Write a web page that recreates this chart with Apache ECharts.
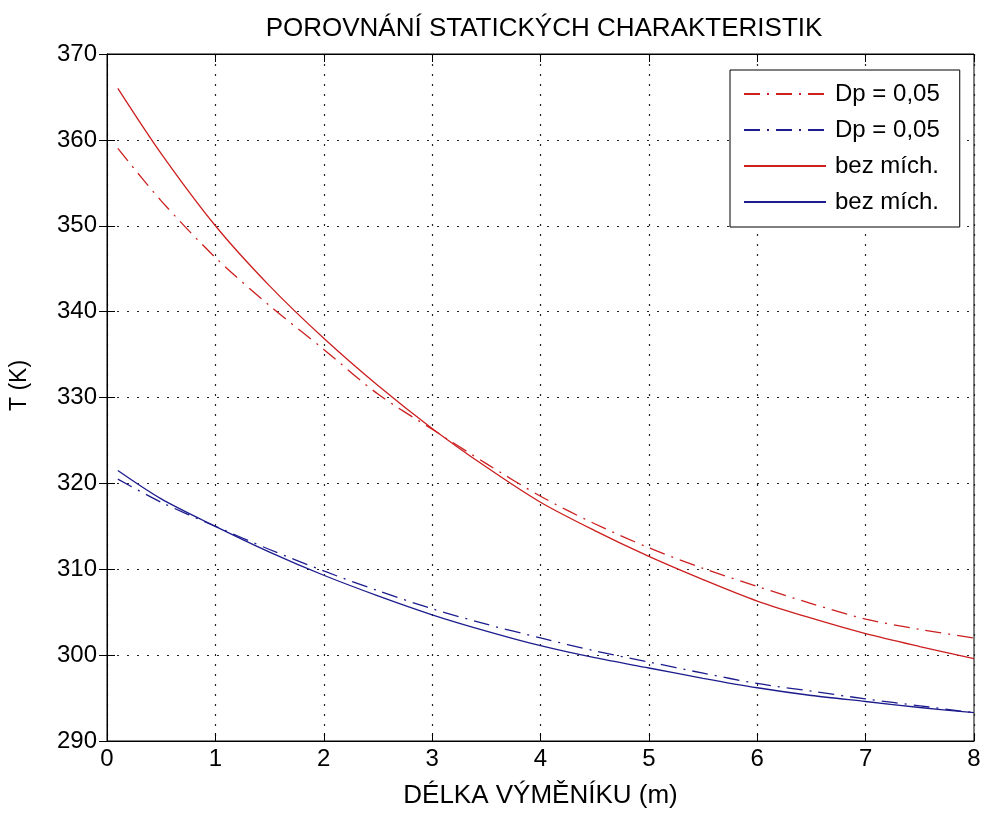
<!DOCTYPE html>
<html>
<head>
<meta charset="utf-8">
<script src="https://cdn.jsdelivr.net/npm/echarts@6/dist/echarts.min.js"></script>
<style>
html,body{margin:0;padding:0;background:#fff;}
#chart{width:984px;height:814px;}
</style>
</head>
<body>
<div id="chart"></div>
<script>
var titleText = 'POROVNÁNÍ STATICKÝCH CHARAKTERISTIK';
var xAxisName = 'DÉLKA VÝMĚNÍKU (m)';
var yAxisName = 'T (K)';
var xTicks = [0, 1, 2, 3, 4, 5, 6, 7, 8];
var yTicks = [290, 300, 310, 320, 330, 340, 350, 360, 370];

var xs = [0.1, 0.5, 1, 1.5, 2, 2.5, 3, 3.5, 4, 4.5, 5, 5.5, 6, 6.5, 7, 7.5, 8];
var redDp  = [359.0, 352.9, 346.3, 340.7, 335.6, 330.4, 326.3, 322.3, 318.5, 315.3, 312.5, 310.1, 308.0, 306.0, 304.2, 303.0, 302.0];
var blueDp = [320.5, 317.8, 315.0, 312.3, 309.8, 307.5, 305.4, 303.6, 302.0, 300.5, 299.2, 297.9, 296.7, 295.8, 294.9, 294.1, 293.3];
var redBez = [366.0, 358.4, 350.0, 343.0, 336.9, 331.4, 326.4, 321.9, 317.8, 314.5, 311.5, 308.8, 306.3, 304.3, 302.5, 301.0, 299.6];
var blueBez= [321.5, 318.2, 315.0, 312.0, 309.3, 306.9, 304.7, 302.8, 301.1, 299.7, 298.5, 297.3, 296.2, 295.3, 294.6, 293.9, 293.3];

var seriesNames = ['Dp = 0,05', 'Dp = 0,05', 'bez mích.', 'bez mích.'];
var seriesData = [redDp, blueDp, redBez, blueBez];
var seriesColors = ['#cc1f1f', '#1c1c8e', '#cc1f1f', '#1c1c8e'];
var seriesDash = [[16, 7, 2, 7], [16, 7, 2, 7], 'solid', 'solid'];

function pairs(v) { return xs.map(function (x, i) { return [x, v[i]]; }); }

var FONT = '"Liberation Sans", Arial, sans-serif';
var ids = seriesNames.map(function (n, i) { return 's' + i; });

var series = seriesData.map(function (d, i) {
  return {
    name: ids[i],
    type: 'line',
    data: pairs(d),
    xAxisIndex: 0,
    yAxisIndex: 0,
    smooth: 0.3,
    symbol: 'none',
    showSymbol: false,
    lineStyle: { color: seriesColors[i], width: 1.3, type: seriesDash[i] },
    itemStyle: { color: seriesColors[i] },
    z: 5 - i
  };
});

var xmin = xTicks[0], xmax = xTicks[xTicks.length - 1];
var ymin = yTicks[0], ymax = yTicks[yTicks.length - 1];

var option = {
  backgroundColor: '#fff',
  animation: false,
  title: {
    text: titleText,
    left: 539, top: 11, textAlign: 'center',
    textStyle: { fontFamily: FONT, fontSize: 26, fontWeight: 'normal', color: '#000' }
  },
  grid: { left: 104, top: 54, right: 10, bottom: 72, show: true, borderColor: '#000', borderWidth: 1, backgroundColor: '#fff' },
  legend: {
    orient: 'vertical', left: 730, top: 70,
    data: ids,
    formatter: function (n) { return seriesNames[ids.indexOf(n)]; },
    itemWidth: 82, itemHeight: 24, itemGap: 12,
    padding: [12, 20, 13, 13],
    borderColor: '#000', borderWidth: 1, backgroundColor: '#fff',
    itemStyle: { opacity: 0, borderWidth: 0 },
    textStyle: { fontFamily: FONT, fontSize: 24, color: '#000', padding: [0, 0, 0, 4] }
  },
  xAxis: [{
    type: 'value', min: xmin, max: xmax, interval: 1, position: 'bottom',
    name: xAxisName, nameLocation: 'middle', nameGap: 42,
    nameTextStyle: { fontFamily: FONT, fontSize: 26, color: '#000' },
    axisLine: { show: true, lineStyle: { color: '#000', width: 1 } },
    axisTick: { show: true, inside: true, length: 8, lineStyle: { color: '#000' } },
    axisLabel: { fontFamily: FONT, fontSize: 24, color: '#000', margin: 6 },
    splitLine: { show: true, lineStyle: { color: '#222', width: 1.2, type: [2, 8] } }
  }, {
    type: 'value', min: xmin, max: xmax, interval: 1, position: 'top',
    axisLine: { show: true, lineStyle: { color: '#000', width: 1 } },
    axisTick: { show: true, inside: true, length: 8, lineStyle: { color: '#000' } },
    axisLabel: { show: false }, splitLine: { show: false }
  }],
  yAxis: [{
    type: 'value', min: ymin, max: ymax, interval: 10, position: 'left',
    name: yAxisName, nameLocation: 'middle', nameGap: 76, nameRotate: 90,
    nameTextStyle: { fontFamily: FONT, fontSize: 23, color: '#000', padding: [0, 0, 0, 24] },
    axisLine: { show: true, lineStyle: { color: '#000', width: 1 } },
    axisTick: { show: true, inside: true, length: 8, lineStyle: { color: '#000' } },
    axisLabel: { fontFamily: FONT, fontSize: 24, color: '#000', margin: 10 },
    splitLine: { show: true, lineStyle: { color: '#222', width: 1.2, type: [2, 8] } }
  }, {
    type: 'value', min: ymin, max: ymax, interval: 10, position: 'right',
    axisLine: { show: true, lineStyle: { color: '#000', width: 1 } },
    axisTick: { show: true, inside: true, length: 8, lineStyle: { color: '#000' } },
    axisLabel: { show: false }, splitLine: { show: false }
  }],
  series: series
};

var chart = echarts.init(document.getElementById('chart'), null, { renderer: 'canvas' });
chart.setOption(option);
</script>
</body>
</html>
